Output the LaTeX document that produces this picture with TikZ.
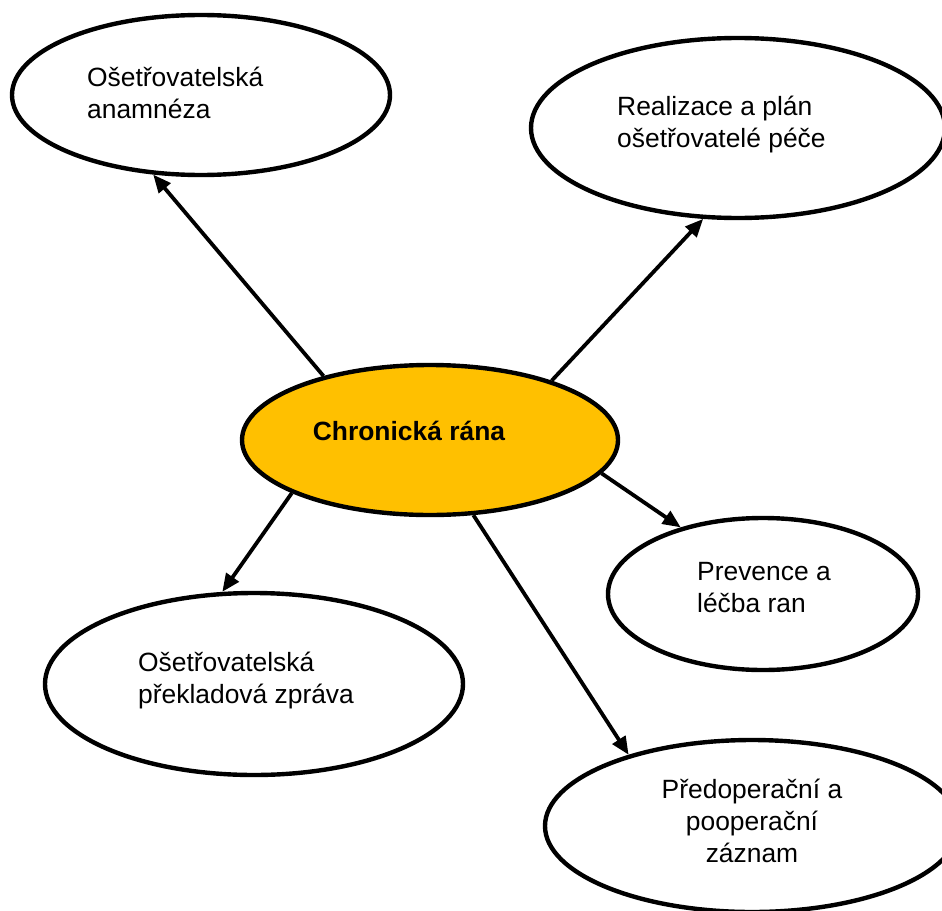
\documentclass[tikz,border=0pt]{standalone}
\usepackage{fontspec}
\setmainfont{Liberation Sans}
\usetikzlibrary{shapes.geometric,arrows.meta}
\definecolor{gold}{RGB}{255,192,0}
\newcommand\lstr{\rule[-10pt]{0pt}{32pt}}
\begin{document}
\begin{tikzpicture}[x=1pt,y=-1pt,
  bubble/.style={ellipse, draw=black, line width=4.4pt, fill=white, inner sep=0pt},
  txt/.style={font=\fontsize{26.4}{32}\selectfont, inner sep=0pt, align=left},
  conn/.style={line width=3.8pt, -{Triangle[length=18pt,width=15pt]}}]
\useasboundingbox (0,0) rectangle (942,910);
\clip (0,0) rectangle (942,910);

\node[bubble, minimum width=378pt, minimum height=160pt] (anam) at (201,95) {};
\node[bubble, minimum width=414pt, minimum height=180pt] (real) at (738,128) {};
\node[bubble, fill=gold, minimum width=376pt, minimum height=150pt] (chron) at (430,440) {};
\node[bubble, minimum width=310pt, minimum height=152pt] (prev) at (763,594) {};
\node[bubble, minimum width=418pt, minimum height=182pt] (prek) at (254,684) {};
\node[bubble, minimum width=414pt, minimum height=172pt] (pred) at (752,826) {};

\node[txt, anchor=west] (tanam) at (87,96) {\lstr Ošetřovatelská\\\lstr anamnéza};
\node[txt, anchor=west] (treal) at (617,125) {\lstr Realizace a plán\\\lstr ošetřovatelé péče};
\node[txt, font=\fontsize{26.4}{32}\selectfont\bfseries, anchor=center] (tchron) at (409,434) {\lstr Chronická rána};
\node[txt, anchor=west] (tprev) at (697,590) {\lstr Prevence a\\\lstr léčba ran};
\node[txt, anchor=west] (tprek) at (138,681) {\lstr Ošetřovatelská\\\lstr překladová zpráva};
\node[txt, align=center, anchor=center] (tpred) at (752,824) {\lstr Předoperační a\\\lstr pooperační\\\lstr záznam};

\draw[conn] (chron.149.7) -- (anam.-121);
\draw[conn] (chron.26.8) -- (real.-111);
\draw[conn] (chron.-11) -- (prev.141.3);
\draw[conn] (chron.-159.6) -- (prek.109.7);
\draw[conn] (chron.-60) -- (pred.150.4);
\end{tikzpicture}
\end{document}
